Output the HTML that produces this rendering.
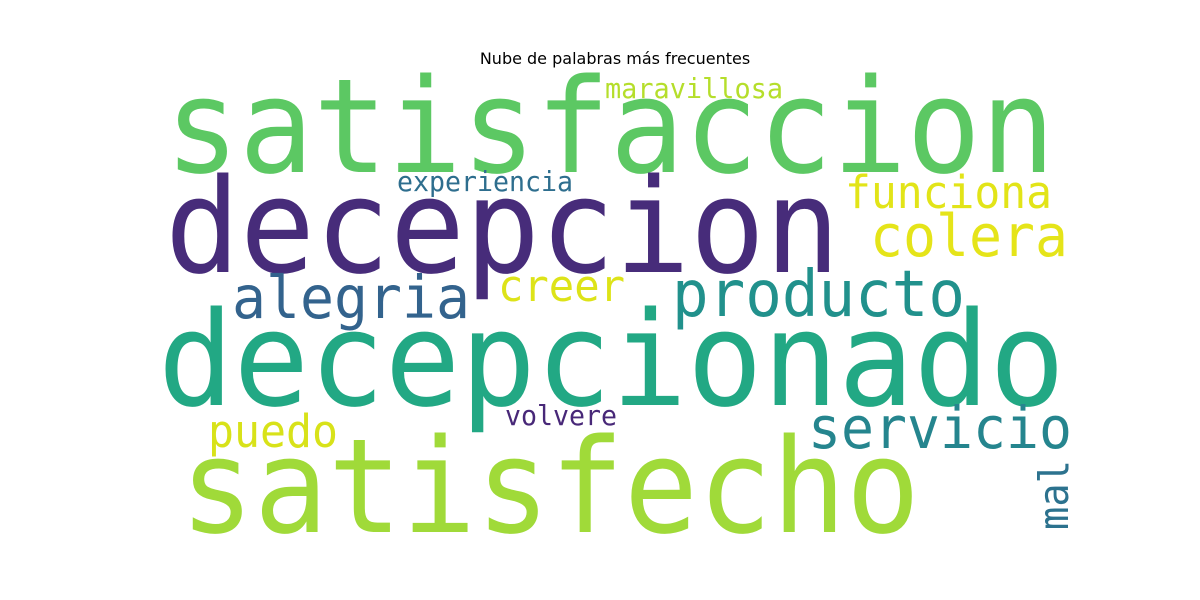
<!DOCTYPE html>
<html><head><meta charset="utf-8"><style>
html,body{margin:0;padding:0;background:#fff;width:1200px;height:600px;overflow:hidden}
svg text.w{font-family:"DejaVu Sans Mono","Liberation Mono",monospace}
</style></head><body>
<svg width="1200" height="600">
<text x="615" y="64" text-anchor="middle" font-family="DejaVu Sans, Liberation Sans, sans-serif" font-size="16">Nube de palabras más frecuentes</text>
<g id="words"></g>
</svg>
<script>
const words=["satisfaccion","decepcion","decepcionado","satisfecho","producto","alegria","colera","funciona","creer","servicio","puedo","maravillosa","experiencia","volvere","mal"];
const sizes=[131,131,131,131,64,59,58,45,44,58,45,28,28,28,41];
const colors=["#5cc863","#472c7a","#22a884","#a0da39","#21918c","#33638d","#e5e419","#e2e418","#dde318","#25858e","#d8e219","#b5de2b","#2e6e8e","#482878","#2c728e"];
const boxes=[[165,172,890],[165,272,675],[158,405,907],[180,532,740],[672,316,293],[232,318,238],[870,256,198],[845,208,207],[498,301,127],[808,448,264],[208,447,130],[605,98,178],[397,191,176],[505,425,112],[1068,530,70]];
const rot=[0,0,0,0,0,0,0,0,0,0,0,0,0,0,-90];
const g=document.getElementById('words');
words.forEach((w,i)=>{
 const t=document.createElementNS('http://www.w3.org/2000/svg','text');
 
 
 t.setAttribute('class','w');
 const [x,y,len]=boxes[i];
 t.setAttribute('x',x);t.setAttribute('y',y);
 t.setAttribute('font-size',sizes[i]);
 t.setAttribute('fill',colors[i]);
 t.setAttribute('textLength',len);
 t.setAttribute('lengthAdjust','spacingAndGlyphs');
 if(rot[i])t.setAttribute('transform','rotate('+rot[i]+' '+x+' '+y+')');
 t.textContent=w;
 g.appendChild(t);
});
</script>
</body></html>
